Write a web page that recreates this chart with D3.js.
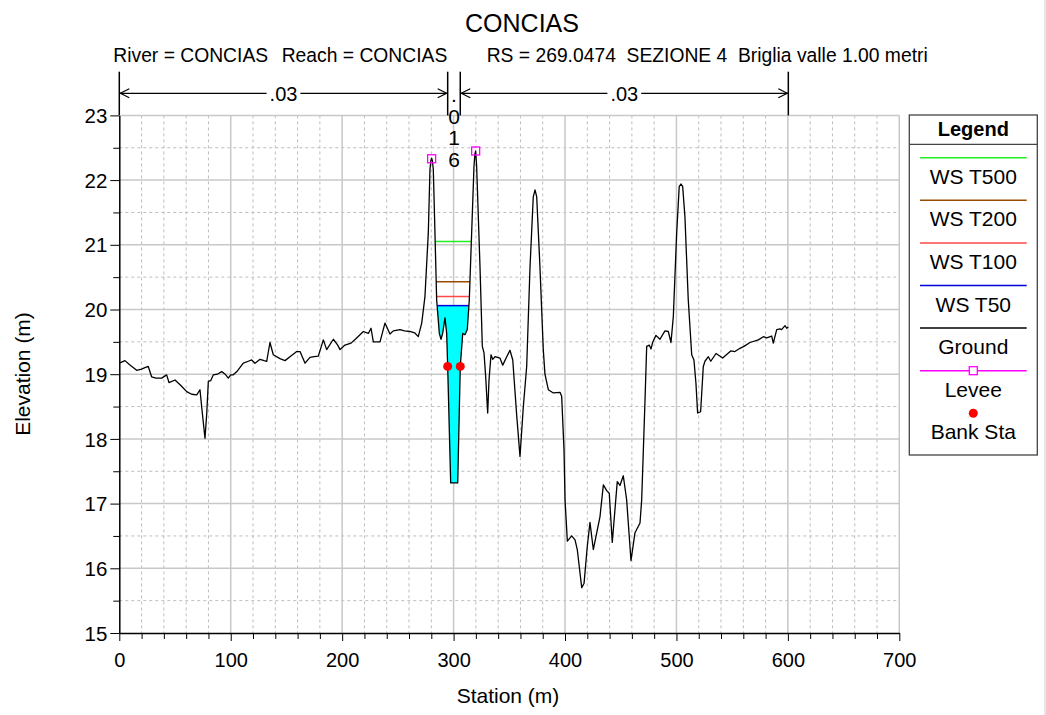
<!DOCTYPE html>
<html>
<head>
<meta charset="utf-8">
<script src="https://cdn.jsdelivr.net/npm/d3@7"></script>
<style>
  body { margin: 0; background: #fff; }
  svg text { font-family: "Liberation Sans", Arial, sans-serif; fill: #000; }
</style>
</head>
<body>
<script>
// GROUND PROFILE (station m, elevation m)
const groundSta = [0, 5.1, 9, 15.6, 20, 23, 26, 29, 33, 38, 42.5, 44.6, 50, 55, 60.5, 65, 69.5, 72.4, 74.5, 76.9,
  78.5, 79.9, 82, 84.4, 88, 91.9, 95, 97.8, 100, 102.3, 106, 111.3, 115.8, 118.8, 121.8, 126.3, 130, 132.3, 135.2, 138.2,
  144.2, 148.7, 154, 159.2, 162.2, 166.7, 171.1, 175, 178.6, 183.1, 186.1, 192.1, 196, 198.1, 202.5, 208, 213, 219, 223.5, 225.9,
  228, 234, 238.4, 242.9, 245.9, 251.9, 256, 260.9, 265, 268.3, 271.4, 274.3, 277.3, 278.8, 279.6, 280.3, 281.0, 281.8, 283.3, 284.8,
  287.2, 288.7, 290.2, 292.3, 293.8, 294.7, 297.4, 303.7, 306.0, 308.2, 310.2, 312.3, 314.1, 316.2, 318.3, 319.1, 319.8, 320.7, 323.7,
  325.8, 327.3, 328.8, 330.6, 331.8, 333.6, 335.1, 337.2, 341.6, 344.1, 347.7, 350.6, 353.1, 356.7, 359.6, 362.6, 365.6, 368.6,
  371.5, 373.1, 374.6, 377.5, 380.5, 382, 385, 389.5, 395.5, 397, 399.1, 400, 402.1, 406, 409, 411, 415, 417.1, 420, 422.4, 425.4,
  431.4, 434.4, 437.4, 439.7, 442.4, 446.9, 449.3, 452.3, 455.3, 459.2, 462.8, 467.3, 468.8, 470.3, 471.8, 473.3, 475.6, 477.2,
  478.6, 481.6, 485.2, 489.7, 492.7, 495.1, 497.2, 500.2, 502.5, 504.0, 505.6, 507.6, 510.6, 513.7, 515.7, 517.5, 519, 521.7, 524.1,
  525.6, 528.6, 530.8, 535.5, 541.5, 548.7, 552.5, 557, 560.6, 566, 573.5, 578, 581, 585.5, 586.9, 590, 592.9, 594.4, 597.4, 598.9, 600.4];
const groundElev = [19.17, 19.21, 19.15, 19.06, 19.08, 19.10, 19.12, 18.96, 18.94, 18.94, 18.99, 18.87, 18.91, 18.83, 18.73, 18.69, 18.68, 18.76, 18.40, 18.01,
  18.40, 18.89, 18.90, 18.99, 19.00, 19.04, 19.00, 18.94, 18.99, 18.99, 19.05, 19.17, 19.20, 19.22, 19.17, 19.23, 19.21, 19.20, 19.49, 19.30,
  19.24, 19.21, 19.28, 19.35, 19.35, 19.17, 19.26, 19.27, 19.28, 19.53, 19.38, 19.54, 19.45, 19.38, 19.45, 19.48, 19.56, 19.66, 19.63, 19.71,
  19.50, 19.50, 19.79, 19.62, 19.67, 19.69, 19.67, 19.66, 19.64, 19.58, 19.79, 20.20, 21.18, 22.16, 22.30, 22.34, 22.30, 22.16, 21.18, 20.15,
  19.63, 19.54, 19.63, 19.87, 19.63, 19.12, 17.32, 17.32, 19.12, 19.63, 19.61, 19.69, 20.15, 21.18, 22.21, 22.40, 22.45, 22.21, 20.66,
  19.43, 19.33, 18.96, 18.40, 18.91, 19.30, 19.23, 19.27, 19.25, 19.14, 19.27, 19.37, 19.22, 18.35, 17.73, 18.50, 19.12, 20.66,
  21.74, 21.85, 21.74, 20.66, 19.38, 19.00, 18.76, 18.71, 18.72, 18.66, 17.83, 17.06, 16.42, 16.50, 16.44, 16.29, 15.70, 15.77, 16.34, 16.71, 16.29,
  16.80, 17.29, 17.20, 17.16, 16.40, 17.34, 17.28, 17.43, 17.06, 16.12, 16.55, 16.70, 17.06, 17.83, 18.60, 19.43, 19.45, 19.39,
  19.49, 19.60, 19.54, 19.67, 19.66, 19.49, 19.89, 21.18, 21.90, 21.94, 21.90, 21.44, 20.15, 19.30, 19.22, 18.86, 18.40, 18.42, 19.12,
  19.20, 19.27, 19.20, 19.32, 19.25, 19.36, 19.35, 19.40, 19.43, 19.49, 19.53, 19.58, 19.56, 19.59, 19.48, 19.69, 19.70, 19.69, 19.75, 19.71, 19.73];

// WATER SURFACES
const wsNames = ["WS T500", "WS T200", "WS T100", "WS T50"];
const wsElev = [21.05, 20.43, 20.20, 20.06];
const wsColors = ["#22ee22", "#994c00", "#ff4848", "#0000dd"];

// LEVEES AND BANK STATIONS
const leveeSta = [280.3, 319.8];
const leveeElev = [22.33, 22.45];
const bankSta = [294.7, 306.0];

// MANNING N BREAKS
const nBreaks = [0, 294.7, 306.0, 600.4];
const nValues = [".03", ".016", ".03"];

// AXIS TICKS
const xTicks = [0, 100, 200, 300, 400, 500, 600, 700];
const xMinor = d3.range(0, 701, 20);
const yTicks = [15, 16, 17, 18, 19, 20, 21, 22, 23];
const yMinor = d3.range(15.5, 23, 1);

// LEGEND
const legendNames = ["WS T500", "WS T200", "WS T100", "WS T50", "Ground", "Levee", "Bank Sta"];

const W = 1046, H = 715;
const svg = d3.select("body").append("svg").attr("width", W).attr("height", H);

const x = d3.scaleLinear().domain([0, 700]).range([119.3, 899.3]);
const y = d3.scaleLinear().domain([15, 23]).range([633, 115.4]);

// RIGHT EDGE STRIP
svg.append("rect").attr("x", 1044).attr("y", 0).attr("width", 2).attr("height", H).attr("fill", "#e6e6e6");

// TITLES
svg.append("text").attr("x", 522).attr("y", 31.5).attr("text-anchor", "middle")
  .style("font-size", "25px").text("CONCIAS");
const sub = svg.append("g").style("font-size", "19.3px");
sub.append("text").attr("x", 113.3).attr("y", 62.3).text("River = CONCIAS");
sub.append("text").attr("x", 281.7).attr("y", 62.3).text("Reach = CONCIAS");
sub.append("text").attr("x", 486.7).attr("y", 62.3).attr("xml:space", "preserve")
  .text("RS = 269.0474  SEZIONE 4  Briglia valle 1.00 metri");

// GRID
const gridX = svg.append("g");
gridX.selectAll("line.minor").data(xMinor.filter(d => d % 100 !== 0)).join("line")
  .attr("x1", d => x(d)).attr("x2", d => x(d)).attr("y1", y(23)).attr("y2", y(15))
  .attr("stroke", "#bdbdbd").attr("stroke-dasharray", "3,3");
gridX.selectAll("line.minorY").data(yMinor).join("line")
  .attr("x1", x(0)).attr("x2", x(700)).attr("y1", d => y(d)).attr("y2", d => y(d))
  .attr("stroke", "#bdbdbd").attr("stroke-dasharray", "3,3");
svg.append("g").selectAll("line").data(xTicks.slice(1)).join("line")
  .attr("x1", d => x(d)).attr("x2", d => x(d)).attr("y1", y(23)).attr("y2", y(15))
  .attr("stroke", "#c8c8c8").attr("stroke-width", 1.5);
svg.append("g").selectAll("line").data(yTicks.slice(1)).join("line")
  .attr("x1", x(0)).attr("x2", x(700)).attr("y1", d => y(d)).attr("y2", d => y(d))
  .attr("stroke", "#c8c8c8").attr("stroke-width", 1.5);

// GROUND POINTS
const ground = groundSta.map((s, i) => [s, groundElev[i]]);
const groundAt = s => {
  const i = d3.bisector(d => d[0]).left(ground, s);
  if (i <= 0) return ground[0][1];
  const a = ground[i - 1], b = ground[i];
  return a[1] + (b[1] - a[1]) * (s - a[0]) / (b[0] - a[0]);
};

// FIND WATER EDGES FROM THE THALWEG BETWEEN THE BANKS
const lo = ground.findIndex(d => d[0] >= bankSta[0]);
const hi = ground.findIndex(d => d[0] >= bankSta[1]);
let thal = lo;
for (let i = lo; i <= hi; i++) if (ground[i][1] < ground[thal][1]) thal = i;
function waterSection(ws) {
  let l = thal, r = thal;
  while (l > 0 && ground[l - 1][1] < ws) l--;
  while (r < ground.length - 1 && ground[r + 1][1] < ws) r++;
  const cross = (a, b) => a[0] + (b[0] - a[0]) * (ws - a[1]) / (b[1] - a[1]);
  const left = [cross(ground[l - 1], ground[l]), ws];
  const right = [cross(ground[r], ground[r + 1]), ws];
  return [left].concat(ground.slice(l, r + 1), [right]);
}

const line = d3.line().x(d => x(d[0])).y(d => y(d[1]));

// FILL UNDER LOWEST PROFILE
const fillSec = waterSection(wsElev[3]);
svg.append("path").attr("d", line(fillSec) + "Z").attr("fill", "#00ffff").attr("stroke", "none");

// WATER SURFACE LINES
wsElev.forEach((ws, i) => {
  const sec = waterSection(ws);
  svg.append("path").attr("d", line([sec[0], sec[sec.length - 1]]))
    .attr("stroke", wsColors[i]).attr("stroke-width", 1.5).attr("fill", "none");
});

// GROUND LINE
svg.append("path").attr("d", line(ground)).attr("fill", "none")
  .attr("stroke", "#000").attr("stroke-width", 1.3).attr("stroke-linejoin", "round");

// LEVEES
svg.append("g").selectAll("rect").data(leveeSta).join("rect")
  .attr("x", (d) => x(d) - 4).attr("y", (d, i) => y(leveeElev[i]) - 4)
  .attr("width", 8).attr("height", 8).attr("fill", "none").attr("stroke", "#ff00ff").attr("stroke-width", 1.3);

// BANK STATIONS
svg.append("g").selectAll("circle").data(bankSta).join("circle")
  .attr("cx", d => x(d)).attr("cy", d => y(groundAt(d))).attr("r", 4.5).attr("fill", "#ff0000");

// AXES
const xAxis = svg.append("g").attr("transform", `translate(0,${y(15)})`)
  .call(d3.axisBottom(x).tickValues(xTicks).tickSize(8).tickSizeOuter(0).tickPadding(4));
svg.append("g").attr("transform", `translate(0,${y(15)})`)
  .call(d3.axisBottom(x).tickValues(xMinor.filter(d => d % 100 !== 0)).tickSize(6).tickFormat(""))
  .call(g => g.select(".domain").remove());
const yAxis = svg.append("g").attr("transform", `translate(${x(0)},0)`)
  .call(d3.axisLeft(y).tickValues(yTicks).tickSize(9).tickSizeOuter(0).tickPadding(3));
svg.append("g").attr("transform", `translate(${x(0)},0)`)
  .call(d3.axisLeft(y).tickValues(yMinor).tickSize(6).tickFormat(""))
  .call(g => g.select(".domain").remove());
svg.selectAll(".domain").attr("stroke", "#000").attr("stroke-width", 1.5);
svg.selectAll(".tick line").attr("stroke", "#000");
xAxis.selectAll("text").style("font-size", "20px").attr("dy", "1.1em");
yAxis.selectAll("text").style("font-size", "20.5px").attr("dy", "0.35em");

// AXIS LABELS
svg.append("text").attr("x", 508).attr("y", 703).attr("text-anchor", "middle")
  .style("font-size", "21px").text("Station (m)");
svg.append("text").attr("transform", "translate(30,374) rotate(-90)").attr("text-anchor", "middle")
  .style("font-size", "21px").text("Elevation (m)");

// MANNING N ANNOTATION
const nY = 93.3;
const ann = svg.append("g");
nBreaks.forEach(s => {
  ann.append("line").attr("x1", x(s)).attr("x2", x(s)).attr("y1", 71.7).attr("y2", y(23))
    .attr("stroke", "#000").attr("stroke-width", 1.5);
});
nValues.forEach((v, i) => {
  const a = x(nBreaks[i]), b = x(nBreaks[i + 1]), mid = (a + b) / 2;
  if (b - a > 60) {
    const t = ann.append("text").attr("x", mid).attr("y", nY + 8).attr("text-anchor", "middle")
      .style("font-size", "20px").text(v);
    const tw = t.node().getComputedTextLength();
    [[a, mid - tw / 2 - 3], [mid + tw / 2 + 3, b]].forEach(seg => {
      ann.append("line").attr("x1", seg[0]).attr("x2", seg[1]).attr("y1", nY).attr("y2", nY)
        .attr("stroke", "#000").attr("stroke-width", 1.2);
    });
    ann.append("path").attr("d", `M${a + 10},${nY - 4.5}L${a + 1},${nY}L${a + 10},${nY + 4.5}`)
      .attr("fill", "none").attr("stroke", "#000").attr("stroke-width", 1.2);
    ann.append("path").attr("d", `M${b - 10},${nY - 4.5}L${b - 1},${nY}L${b - 10},${nY + 4.5}`)
      .attr("fill", "none").attr("stroke", "#000").attr("stroke-width", 1.2);
  } else {
    v.split("").forEach((c, k) => {
      ann.append("text").attr("x", mid).attr("y", 102 + k * 21.5).attr("text-anchor", "middle")
        .style("font-size", "21px").text(c);
    });
  }
});

// LEGEND
const lg = svg.append("g");
const lx0 = 909.3, lx1 = 1037.3, lcx = (lx0 + lx1) / 2;
lg.append("rect").attr("x", lx0).attr("y", 115).attr("width", lx1 - lx0).attr("height", 340)
  .attr("fill", "#fff").attr("stroke", "#444").attr("stroke-width", 1.3);
lg.append("line").attr("x1", lx0).attr("x2", lx1).attr("y1", 144.3).attr("y2", 144.3)
  .attr("stroke", "#444").attr("stroke-width", 1.3);
lg.append("text").attr("x", lcx).attr("y", 136).attr("text-anchor", "middle")
  .style("font-size", "20px").style("font-weight", "bold").text("Legend");
const legendColors = wsColors.concat(["#000", "#ff00ff", "#ff0000"]);
legendNames.forEach((name, i) => {
  const ly = 157.7 + i * 42.6;
  if (i < 6) {
    lg.append("line").attr("x1", 920).attr("x2", 1026.7).attr("y1", ly).attr("y2", ly)
      .attr("stroke", legendColors[i]).attr("stroke-width", 1.5);
  }
  if (name === "Levee") {
    lg.append("rect").attr("x", lcx - 4).attr("y", ly - 4).attr("width", 8).attr("height", 8)
      .attr("fill", "#fff").attr("stroke", "#ff00ff").attr("stroke-width", 1.3);
  }
  if (name === "Bank Sta") {
    lg.append("circle").attr("cx", lcx).attr("cy", ly).attr("r", 4.5).attr("fill", "#ff0000");
  }
  lg.append("text").attr("x", lcx).attr("y", ly + 26).attr("text-anchor", "middle")
    .style("font-size", "21px").text(name);
});
</script>
</body>
</html>
